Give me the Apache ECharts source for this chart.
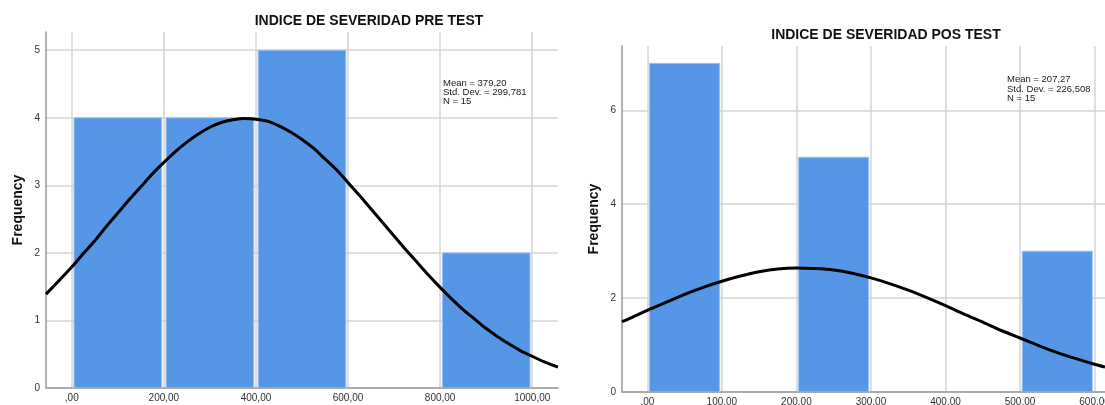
<!DOCTYPE html>
<html><head><meta charset="utf-8">
<script src="https://cdn.jsdelivr.net/npm/echarts@6/dist/echarts.min.js"></script>
<style>html,body{margin:0;padding:0;background:#fff}#c{width:1105px;height:405px}</style>
</head><body><div id="c"></div>
<script>
// ---- data ----
const preTitle = 'INDICE DE SEVERIDAD PRE TEST';
const posTitle = 'INDICE DE SEVERIDAD POS TEST';
const yName = 'Frequency';

const preBinStart = [0, 200, 400, 800];
const preBinEnd   = [200, 400, 600, 1000];
const preCounts   = [4, 4, 5, 2];

const posBinStart = [0, 200, 500];
const posBinEnd   = [100, 300, 600];
const posCounts   = [7, 5, 3];

// normal curves
const preCurveX = [-56, -25, 0, 25, 50, 75, 100, 125, 150, 175, 200, 225, 250, 275, 300, 325, 350, 375, 400, 425, 450, 475, 500, 525, 550, 575, 600, 625, 650, 675, 700, 725, 750, 775, 800, 825, 850, 875, 900, 925, 950, 975, 1000, 1025, 1056];
const preCurveY = [1.39, 1.61, 1.79, 1.99, 2.18, 2.39, 2.59, 2.79, 2.98, 3.17, 3.34, 3.50, 3.64, 3.76, 3.86, 3.93, 3.97, 3.99, 3.98, 3.95, 3.88, 3.79, 3.68, 3.55, 3.39, 3.23, 3.04, 2.85, 2.65, 2.45, 2.25, 2.05, 1.86, 1.67, 1.49, 1.32, 1.16, 1.02, 0.88, 0.76, 0.65, 0.55, 0.47, 0.39, 0.31];
const posCurveX = [-34, -25, 0, 25, 50, 75, 100, 125, 150, 175, 200, 225, 250, 275, 300, 325, 350, 375, 400, 425, 450, 475, 500, 525, 550, 575, 600, 614];
const posCurveY = [1.50, 1.56, 1.74, 1.91, 2.08, 2.23, 2.36, 2.47, 2.56, 2.62, 2.64, 2.63, 2.60, 2.53, 2.43, 2.31, 2.17, 2.01, 1.84, 1.66, 1.49, 1.31, 1.15, 0.99, 0.84, 0.71, 0.59, 0.53];

const preXTicks = [0, 200, 400, 600, 800, 1000];
const preXTickLabels = [',00', '200,00', '400,00', '600,00', '800,00', '1000,00'];
const posXTicks = [0, 100, 200, 300, 400, 500, 600];
const posXTickLabels = [',00', '100,00', '200,00', '300,00', '400,00', '500,00', '600,00'];
const preYTicks = [0, 1, 2, 3, 4, 5];
const posYTicks = [0, 2, 4, 6];

const preStats = ['Mean = 379,20', 'Std. Dev. = 299,781', 'N = 15'];
const posStats = ['Mean = 207,27', 'Std. Dev. = 226,508', 'N = 15'];

// ---- chart ----
const FONT = '"Liberation Sans", Arial, sans-serif';
const BAR = '#5596e6';
const GRID = '#d4d4d4';
const AXIS = '#9a9a9a';

function xAxisDef(gi, min, max, ticks, labels, margin) {
  return {
    type: 'value', gridIndex: gi, min: min, max: max,
    axisLine: { show: true, onZero: false, lineStyle: { color: AXIS, width: 1.5 } },
    axisTick: { show: false, customValues: ticks },
    axisLabel: {
      customValues: ticks, margin: margin, color: '#333', fontSize: 10, fontFamily: FONT,
      formatter: v => labels[ticks.indexOf(v)]
    },
    splitLine: { show: true, lineStyle: { color: GRID, width: 1.5 } }
  };
}
function yAxisDef(gi, max, ticks) {
  return {
    type: 'value', gridIndex: gi, min: 0, max: max,
    name: yName, nameLocation: 'middle', nameRotate: 90, nameGap: 21,
    nameTextStyle: { fontSize: 14, fontWeight: 'bold', color: '#111', fontFamily: FONT },
    axisLine: { show: true, onZero: false, lineStyle: { color: AXIS, width: 1.5 } },
    axisTick: { show: false, customValues: ticks },
    axisLabel: { customValues: ticks, margin: 6, color: '#333', fontSize: 10, fontFamily: FONT },
    splitLine: { show: true, lineStyle: { color: GRID, width: 1.5 } }
  };
}
function barSeries(i, starts, ends, counts) {
  return {
    type: 'custom', xAxisIndex: i, yAxisIndex: i, clip: true, z: 2,
    data: starts.map((s, k) => [s, ends[k], counts[k]]),
    encode: { x: [0, 1], y: 2 },
    renderItem: (params, api) => {
      const p0 = api.coord([api.value(0), api.value(2)]);
      const p1 = api.coord([api.value(1), 0]);
      const inset = 2.2;
      return {
        type: 'rect',
        shape: { x: p0[0] + inset, y: p0[1], width: p1[0] - p0[0] - 2 * inset, height: p1[1] - p0[1] },
        style: { fill: BAR, stroke: '#9fc3f0', lineWidth: 1 }
      };
    }
  };
}
function curveSeries(i, xs, ys) {
  return {
    type: 'line', xAxisIndex: i, yAxisIndex: i, z: 3,
    data: xs.map((x, k) => [x, ys[k]]),
    smooth: 0.3, showSymbol: false, symbol: 'none', clip: true,
    lineStyle: { color: '#000', width: 3, join: 'round' }
  };
}
function statsText(x, y, lines) {
  return {
    type: 'text', left: x, top: y, z: 10,
    style: { text: lines.join('\n'), font: '9.5px ' + FONT, lineHeight: 9.3, fill: '#222' }
  };
}

const chart = echarts.init(document.getElementById('c'), null, { renderer: 'canvas' });
chart.setOption({
  animation: false,
  backgroundColor: '#fff',
  grid: [
    { left: 46, top: 32, right: 1105 - 558, bottom: 405 - 388, containLabel: false, outerBoundsMode: 'none' },
    { left: 622, top: 46, right: 0, bottom: 405 - 392, containLabel: false, outerBoundsMode: 'none' }
  ],
  xAxis: [
    xAxisDef(0, -56, 1056, preXTicks, preXTickLabels, 5),
    xAxisDef(1, -34, 614, posXTicks, posXTickLabels, 5)
  ],
  yAxis: [
    yAxisDef(0, 5.27, preYTicks),
    yAxisDef(1, 7.37, posYTicks)
  ],
  series: [
    barSeries(0, preBinStart, preBinEnd, preCounts),
    curveSeries(0, preCurveX, preCurveY),
    barSeries(1, posBinStart, posBinEnd, posCounts),
    curveSeries(1, posCurveX, posCurveY)
  ],
  graphic: [
    { type: 'text', x: 369, y: 21, style: { text: preTitle, font: 'bold 14px ' + FONT, fill: '#111', align: 'center', verticalAlign: 'middle' } },
    { type: 'text', x: 886, y: 35, style: { text: posTitle, font: 'bold 14px ' + FONT, fill: '#111', align: 'center', verticalAlign: 'middle' } },
    statsText(443, 78, preStats),
    statsText(1007, 74.7, posStats)
  ]
});
</script>
</body></html>
